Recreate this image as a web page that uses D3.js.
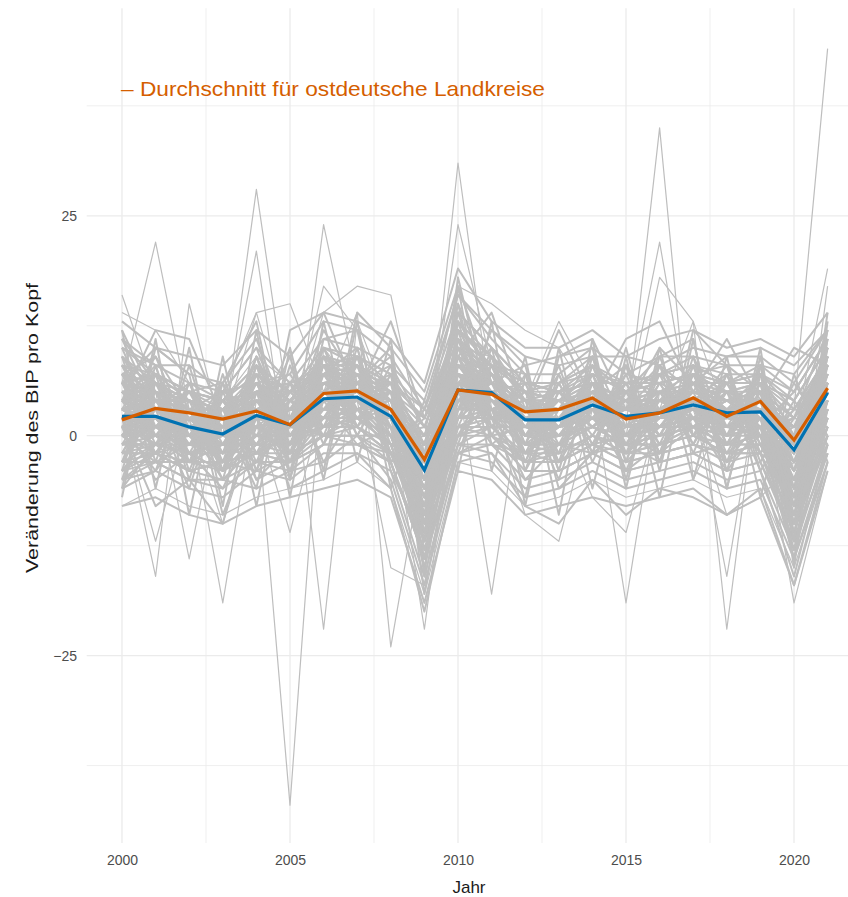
<!DOCTYPE html>
<html><head><meta charset="utf-8">
<script src="https://cdn.jsdelivr.net/npm/d3@7"></script>
<style>body{margin:0;background:#fff}svg{display:block;font-family:"Liberation Sans",Arial,sans-serif}</style>
</head><body><svg id="c" width="848" height="897"></svg>
<script>
const years = d3.range(2000, 2022);
const xTicks = [2000, 2005, 2010, 2015, 2020];
const yTicks = [-25, 0, 25];
const avgAll = [2.2, 2.2, 1.0, 0.2, 2.3, 1.25, 4.2, 4.4, 2.2, -3.9, 5.2, 4.9, 1.8, 1.8, 3.5, 2.2, 2.6, 3.5, 2.6, 2.7, -1.6, 4.9];
const avgEast = [1.8, 3.1, 2.6, 1.9, 2.8, 1.25, 4.8, 5.1, 3.0, -2.7, 5.2, 4.7, 2.7, 3.0, 4.3, 1.9, 2.6, 4.3, 2.2, 3.9, -0.5, 5.4];
const legendLabel = "– Durchschnitt für ostdeutsche Landkreise";
const xTitle = "Jahr";
const yTitle = "Veränderung des BIP pro Kopf";
const districtsCore = [
[8,6,4,3,7,4,9,8,5,2,12,9,5,6,7,6,7,8,6,6,4,10],
[-3,-2,-4,-5,-1,-2,0,1,-1,-12,0,1,-3,-2,0,-2,-1,0,-2,-1,-9,1],
[4,7,2,-2,5,0,6,3,4,-6,9,3,4,0,5,1,4,2,5,1,-3,7],
[0,3,-1,2,0,3,2,7,0,-9,3,7,0,4,1,4,0,6,0,5,-7,3],
[6,1,5,0,9,-1,8,5,7,-2,15,6,3,-2,8,0,6,4,7,0,2,12],
[-1,5,0,4,-2,5,1,9,-3,-14,2,9,-1,6,-1,5,-2,8,-1,6,-11,2],
[3,0,3,-3,4,-2,5,2,2,-8,7,2,2,-3,3,-1,3,1,3,0,-5,6],
[10,8,6,5,10,6,11,10,8,4,16,11,7,7,10,7,9,9,8,8,7,12],
[-5,-4,-6,-7,-4,-5,-2,-2,-4,-16,-1,-2,-6,-5,-3,-5,-4,-3,-5,-4,-13,-1],
[2,4,1,1,3,2,4,5,2,-4,5,5,2,2,4,2,3,4,2,3,-1,5],
[5,2,0,-1,6,3,7,6,1,-1,10,4,1,3,6,3,1,5,4,2,1,8],
[1,-1,3,2,0,-1,3,4,5,-10,4,6,4,1,2,3,4,3,0,4,-6,4],
[7,9,3,1,3,0,5,7,3,0,8,8,0,2,5,5,2,7,1,7,-2,9],
[-2,0,-3,-1,-3,1,0,3,-2,-7,1,3,-2,-1,-1,0,-2,1,-3,0,-8,0],
[4,3,6,4,2,6,3,4,6,-5,7,1,6,5,2,6,5,3,6,2,-4,6],
[9,5,-2,-4,8,2,10,3,-1,-11,11,0,-4,3,9,-3,8,2,-2,1,5,11],
[-4,1,5,6,-5,-3,-1,6,8,1,-2,8,7,-4,-2,8,-3,7,8,5,-12,-2],
[3,5,2,-1,1,4,6,6,3,-3,6,5,3,3,3,2,2,4,3,4,0,6],
[1,2,-2,0,4,1,2,3,1,-6,4,2,1,1,4,1,1,2,1,1,-3,3],
[6,7,4,2,5,-1,8,8,4,-1,13,7,4,4,5,4,5,5,5,5,0,8],
[0,-3,-1,-2,2,2,3,2,0,-8,2,2,-1,0,1,-1,0,1,0,1,-9,2],
[12,4,2,1,4,3,6,4,3,-4,6,4,3,2,4,3,3,4,3,3,-2,6],
[2,6,1,-3,3,-2,4,7,1,-9,7,5,0,1,3,0,2,3,1,2,-4,5],
[-6,-1,2,0,-2,0,2,2,3,-5,3,3,1,0,2,1,1,2,2,2,-2,4],
[5,0,-3,1,7,5,5,4,0,-12,8,6,3,4,6,4,4,6,3,3,-6,7],
[3,3,2,3,1,0,3,5,4,-3,3,4,2,3,3,1,2,3,2,3,1,4],
[8,4,3,5,3,5,7,2,2,-7,9,3,5,1,4,5,1,5,4,6,2,7],
[-1,0,0,-4,2,-4,4,5,1,-15,5,4,1,0,2,-2,1,2,1,0,-14,3],
[1,3,4,2,3,2,5,4,2,-4,7,6,2,2,4,2,3,4,3,3,-2,6],
[4,1,-1,0,2,1,4,6,2,-6,5,5,1,2,3,2,2,3,2,2,-1,4],
[2,1,0,1,3,2,5,5,3,-2,6,5,2,2,4,3,3,4,3,3,0,6],
[3,2,2,0,2,1,4,4,2,-5,5,4,2,1,3,2,2,3,2,2,-2,5],
[1,3,0,-1,3,1,3,5,3,-4,6,6,1,3,4,2,4,4,2,4,-3,5],
[4,2,1,1,1,2,5,3,1,-3,4,5,3,2,4,2,2,3,3,2,0,4],
[2,4,2,2,4,0,4,4,2,-7,8,5,2,1,3,3,3,4,1,3,-4,6],
[0,1,1,0,2,3,3,6,1,-6,4,4,0,2,3,1,2,3,2,3,-2,4],
[5,3,1,0,4,1,6,4,3,-2,7,4,3,1,5,3,3,4,4,2,0,7],
[1,0,-1,1,1,2,3,4,2,-5,4,5,1,2,3,1,2,4,2,3,-1,4],
[3,2,3,1,3,1,5,5,2,-4,6,4,2,3,4,2,3,3,3,3,-2,5],
[2,3,0,-1,2,2,4,4,3,-3,5,6,2,2,4,3,2,4,2,4,-1,6],
[7,5,4,2,6,4,8,7,5,1,10,8,5,4,7,5,6,7,5,6,3,9],
[-3,-3,-3,-3,-2,-3,1,1,-2,-10,1,1,-2,-2,0,-2,-1,0,-1,-1,-7,1],
[6,3,5,2,7,3,7,8,5,0,10,7,4,5,6,4,5,6,4,5,2,9],
[-2,-1,-2,-4,-1,-1,1,2,0,-9,1,2,-1,-1,1,-1,0,1,-1,0,-6,2],
[5,6,2,3,5,2,6,6,4,-1,9,7,4,3,5,4,4,6,4,4,1,8],
[-1,1,-2,-2,0,0,2,2,0,-8,2,3,0,0,2,0,1,2,0,1,-5,3],
[6,7,5,4,8,5,9,7,6,3,12,8,6,5,6,6,6,7,6,7,4,10],
[-4,-3,-5,-6,-3,-4,-1,-1,-3,-13,-2,0,-4,-4,-2,-4,-3,-2,-4,-3,-11,0],
[3,4,3,0,2,3,4,6,4,-3,6,5,3,4,4,3,3,5,3,4,-1,5],
[1,2,1,2,3,0,3,3,1,-6,4,4,1,1,3,2,2,3,1,2,-3,4],
[9,3,2,4,5,6,7,9,6,-1,14,10,6,6,8,5,7,8,6,8,5,11],
[-5,-2,-4,-3,-4,-2,0,-1,-2,-11,-1,-1,-3,-3,-1,-3,-2,-1,-2,-2,-10,-1],
[4,5,3,3,6,2,6,6,3,-2,8,6,3,3,5,3,4,5,4,5,0,7],
[0,0,-1,-2,1,-1,2,3,1,-7,3,3,0,1,2,0,1,2,1,1,-4,3],
[11,6,4,3,6,1,9,5,4,-3,11,6,5,4,6,4,8,5,4,5,1,10],
[2,-1,2,4,0,4,2,6,3,-9,6,7,3,3,2,2,1,3,3,2,-8,4],
[7,2,0,-2,9,1,6,4,0,-5,10,3,-1,2,7,0,4,2,0,4,-3,8],
[-3,4,4,1,-1,3,3,7,4,-10,3,6,3,5,1,4,3,6,4,1,-10,1],
[5,1,3,2,4,2,2,3,5,-4,7,5,1,3,5,2,4,2,5,3,1,7],
[0,2,1,-3,3,0,5,3,1,-7,5,3,3,0,4,1,2,3,0,3,-5,5],
[3,1,2,-1,5,3,2,6,5,-7,6,2,3,4,1,3,5,4,1,3,-4,8],
[-2,4,1,3,1,-2,6,4,0,-4,9,6,-2,1,5,0,3,5,3,0,-6,3],
[5,5,-1,2,3,1,7,3,3,-9,4,5,2,-1,3,4,0,2,4,5,-8,6],
[1,-2,2,-2,4,4,3,7,2,-5,8,3,4,3,4,-1,4,3,-1,2,-2,7],
[7,3,4,0,1,0,5,5,6,-3,11,7,1,2,6,3,2,6,5,4,-1,9],
[-1,2,-3,1,5,2,1,2,-1,-11,3,4,3,0,2,2,1,1,2,3,-7,2],
[4,6,3,-2,2,3,8,6,1,-1,7,3,0,3,3,1,4,4,2,1,2,8],
[2,0,0,3,6,-1,4,3,4,-8,6,6,2,2,5,4,2,2,4,4,-5,4],
[0,5,2,0,-1,2,5,8,2,-6,10,5,1,1,2,2,3,6,1,2,-3,6],
[6,2,-2,-1,4,0,3,4,3,-2,5,2,5,4,4,1,1,3,3,3,0,5],
[-4,-1,0,-3,0,1,2,1,-2,-9,0,2,-1,-2,0,-1,-1,0,-2,-1,-8,0],
[8,7,5,3,5,5,10,8,6,2,13,9,4,5,7,5,7,6,6,6,4,10],
[3,4,-1,1,3,0,4,5,1,-5,7,4,1,2,3,2,2,3,2,2,-3,5],
[1,1,1,-1,2,1,3,4,2,-6,4,4,2,1,3,1,2,3,1,2,-2,4],
[2,3,2,1,3,2,4,4,3,-4,6,5,2,2,4,2,3,4,3,3,-1,5],
[4,2,1,0,2,1,5,5,2,-3,5,5,2,2,4,3,3,4,2,3,-2,6],
[0,1,-1,0,2,1,4,4,2,-5,5,4,1,1,3,2,2,3,2,2,-3,4],
[2,2,1,1,3,1,4,5,3,-4,6,5,2,2,3,2,3,4,3,3,-1,5],
[3,3,1,0,2,2,5,4,2,-5,5,4,2,2,4,2,3,3,2,3,-2,5],
[1,2,0,0,3,1,4,4,2,-3,6,5,2,1,3,2,2,4,2,3,-1,5],
[5,4,3,2,5,3,7,6,4,-1,9,7,4,3,6,4,5,6,4,5,2,8],
[-1,0,-1,-2,0,-1,2,3,0,-8,3,3,0,0,1,0,1,1,0,1,-5,2],
[6,5,3,3,4,2,7,7,5,0,8,7,4,4,5,4,4,5,5,4,1,7],
[-3,-1,-2,-1,-1,0,1,2,-1,-11,1,2,-1,-1,1,-1,-1,1,-1,0,-9,1],
[9,6,5,4,7,4,8,9,7,1,12,9,5,5,8,5,6,7,6,7,3,9],
[-2,-2,-4,-3,-2,-2,0,0,-2,-12,0,0,-2,-3,-1,-2,-2,-1,-2,-2,-10,0],
[4,4,4,2,4,3,6,5,4,-2,7,6,3,3,5,3,4,5,3,4,0,7],
[0,0,-2,-1,1,0,3,3,1,-7,2,3,1,0,2,1,1,2,1,1,-6,3],
[7,6,4,3,6,3,9,8,6,2,11,8,5,4,7,5,5,7,5,6,2,9],
[-4,-2,-3,-4,-2,-3,0,0,-3,-14,-1,1,-3,-3,-1,-3,-2,-1,-3,-2,-12,0],
[3,1,2,2,1,2,6,6,3,-4,7,6,3,3,4,3,3,4,3,3,-1,6],
[1,3,0,-2,3,0,3,3,1,-6,4,3,0,1,3,1,2,2,1,2,-4,4],
[5,2,2,1,3,2,5,5,3,-2,6,5,2,2,4,2,3,4,3,3,0,6],
[2,0,1,-1,2,1,3,4,2,-5,5,4,1,2,3,1,2,3,2,2,-3,4],
[-5,-3,-5,-5,-3,-3,-1,-1,-3,-14,-2,-1,-5,-4,-2,-4,-3,-2,-4,-3,-12,-2],
[10,7,5,4,8,5,10,9,7,3,14,10,6,6,8,6,7,8,7,7,5,11],
[6,4,2,1,5,1,6,7,4,-3,9,6,3,3,5,3,4,5,4,4,-1,8],
[-1,-1,-1,-1,1,0,2,2,0,-9,2,2,-1,0,1,0,0,1,0,0,-7,2],
[3,5,4,3,4,4,6,6,5,-1,8,6,4,4,5,4,4,5,4,4,1,7],
[2,2,0,-1,1,-1,3,3,1,-7,3,3,1,1,2,1,1,2,1,1,-4,3],
[9,-3,8,-4,9,-2,10,1,8,-10,12,0,7,-4,9,-3,8,-2,7,-3,4,-1],
[-4,8,-5,7,-4,8,-1,10,-3,3,-1,10,-4,7,-2,8,-3,9,-4,8,-12,11],
[7,-1,6,-3,8,-3,9,0,7,-12,13,1,6,-3,8,-2,7,-1,7,-2,6,0],
[-3,7,-4,5,-3,6,0,9,-2,2,1,9,-3,6,-1,7,-2,8,-3,7,-10,10],
[5,0,5,-2,6,-1,8,2,6,-9,10,2,5,-2,7,-1,6,0,6,-1,3,2],
[0,6,-2,4,-1,5,2,8,-1,0,2,8,-2,5,0,6,-1,7,-1,6,-8,9],
[6,-2,3,-4,7,-4,7,1,5,-14,11,3,4,-5,6,-4,5,1,5,-4,2,1],
[-2,5,-3,6,-4,4,1,7,0,1,0,7,-1,8,-3,5,0,6,-2,5,-9,8],
[4,8,-3,3,6,-2,3,8,-2,-5,14,2,-3,5,6,-2,2,7,-1,6,-4,10],
[1,-4,6,-1,3,5,8,0,7,-11,4,8,6,-1,2,7,6,0,7,-1,1,3],
[8,2,-1,5,10,0,5,9,1,-7,8,4,0,6,9,1,4,8,0,8,-6,12],
[-3,3,4,-4,0,6,-3,3,5,-2,7,6,5,-3,0,6,-2,4,6,0,-11,4],
[3,9,0,6,-2,2,9,1,-2,-4,15,-1,2,4,1,5,9,0,3,7,0,9],
[0,-2,4,0,7,-3,2,6,9,-13,2,5,-2,1,7,-3,1,5,-3,2,-13,6],
[10,1,3,-2,5,7,1,4,3,-6,6,10,4,0,5,8,3,3,8,-2,-5,5],
[-5,6,0,3,-5,-1,7,10,-3,-1,9,0,1,7,-2,1,7,9,1,4,-7,11],
[2,-5,-2,-6,2,3,4,-1,1,-15,1,3,-5,-1,3,-4,-1,2,-4,1,-14,-2],
[6,10,7,6,11,1,12,6,10,5,17,6,8,9,11,3,10,6,9,10,8,12],
[-6,-4,1,-5,-6,-4,-3,0,-5,-17,-2,-3,-7,-6,-4,-6,-5,-4,-6,-5,-14,-3],
[11,8,8,5,6,7,13,12,9,3,16,12,9,8,9,9,8,10,9,9,6,12],
[4,-2,-1,3,-1,4,0,2,2,-8,0,4,-1,0,1,4,-1,1,1,4,-10,1],
[1,6,3,-5,8,-2,6,3,-1,-3,10,5,2,-2,6,-1,5,4,3,-2,3,8],
[3,1,5,1,-1,2,6,7,2,-12,5,-1,-2,2,4,-2,3,1,-1,2,-9,3],
[7,4,-1,-1,4,3,2,6,6,-1,8,5,6,5,3,5,1,6,3,5,-3,5],
[-2,-2,3,2,6,0,5,1,-2,-8,11,7,0,-1,6,2,5,-1,5,0,0,10],
[5,3,0,-3,1,-1,7,5,4,-6,4,3,3,4,1,4,3,4,0,5,-6,2],
[0,4,4,3,5,6,1,3,5,-4,6,1,1,2,5,0,4,2,4,3,-1,6],
[8,0,1,1,2,-3,4,7,3,-9,12,6,4,3,3,6,0,7,2,1,-7,9],
[2,7,5,4,-2,1,8,4,-1,-2,3,8,2,0,2,3,7,3,6,6,-2,3],
[-1,-1,-4,-3,1,2,0,0,0,-10,1,0,-3,-1,-2,-1,-3,-2,-1,-1,-8,-1],
[12,-6,10,-8,12,-7,13,-3,11,-16,17,-4,9,-9,11,-6,10,-5,9,-7,7,-3],
[-7,11,-9,9,-8,10,-5,13,-6,4,-4,13,-8,10,-6,9,-7,11,-6,10,-15,13],
[11,3,-6,6,13,-5,11,12,-4,-12,18,2,-7,9,10,-5,9,11,-6,9,-12,14],
[-6,10,7,-9,1,9,-4,14,10,-18,3,12,8,-6,-2,10,-4,12,8,-4,-16,-1],
[13,10,9,8,12,9,14,13,11,6,19,13,10,10,12,9,11,12,10,11,9,14],
[-8,-7,-9,-10,-8,-7,-6,-5,-7,-19,-4,-5,-9,-8,-7,-8,-7,-6,-9,-7,-17,-4],
[1,-8,-5,-10,5,-6,-4,-2,-6,-20,-3,-2,-8,-10,-5,-9,-6,-7,-9,-6,-17,-3],
[4,12,11,2,-6,12,14,5,13,2,9,14,3,12,4,11,13,5,11,4,10,8]
];
const districtsSpikes = [
[6,22,3,1,3,2,5,5,3,-3,6,5,3,2,4,3,3,4,3,3,0,6],
[3,2,1,0,28,2,4,5,2,-4,6,4,2,2,3,2,3,3,2,3,-1,5],
[4,3,2,1,21,-5,6,4,2,-5,7,5,2,2,4,2,2,4,2,3,-2,5],
[2,1,0,0,3,-42,10,5,3,-4,5,4,2,2,3,2,3,3,2,3,-2,4],
[3,2,1,0,2,-5,24,6,3,-3,6,5,2,2,4,3,2,4,3,3,-1,5],
[2,1,0,1,2,10,-22,13,3,-5,5,4,1,2,3,2,3,3,2,2,-2,4],
[4,3,2,1,3,2,5,14,-24,-2,8,5,2,2,4,3,3,4,3,3,-1,6],
[2,1,0,0,2,1,4,4,3,-22,7,4,2,2,3,2,2,3,2,2,-3,5],
[3,2,1,1,3,2,5,5,3,-5,31,3,2,2,4,3,3,4,3,3,-1,6],
[2,1,0,0,2,1,4,4,2,-3,24,8,3,2,3,2,3,3,2,3,-2,5],
[3,2,1,0,3,2,5,5,3,-4,6,-18,7,2,4,2,3,4,3,3,-1,5],
[2,2,1,0,2,1,4,4,2,-5,5,3,-9,-12,3,2,2,3,2,3,-2,5],
[3,2,1,0,3,1,5,5,3,-4,6,4,2,3,5,-19,5,4,3,3,-2,6],
[2,2,1,0,2,1,4,5,2,-4,5,4,2,2,3,1,35,-5,3,3,-2,5],
[3,2,1,1,3,2,5,4,3,-3,6,5,2,2,3,3,22,0,2,3,-1,5],
[2,1,0,0,2,1,4,4,2,-4,5,4,2,2,3,2,3,13,-22,8,-3,5],
[3,2,1,0,3,1,5,5,3,-4,6,4,2,2,4,2,3,4,-16,7,-2,6],
[2,1,0,0,2,1,4,4,2,-5,5,4,2,2,3,2,3,3,2,3,-19,-4],
[3,2,1,0,3,2,5,5,3,-4,6,4,2,2,4,2,3,4,3,3,3,44],
[2,2,1,1,2,1,4,4,2,-3,5,4,2,2,3,2,2,3,2,3,0,19],
[16,5,2,-19,4,1,5,4,2,-4,6,4,2,2,3,2,3,3,2,3,-1,5],
[2,-16,15,0,2,1,4,4,2,-4,5,4,2,2,3,2,3,3,2,3,-2,5],
[3,5,-14,5,14,1,4,4,2,-4,5,4,2,2,3,2,3,3,2,3,-2,5],
[3,2,1,0,3,1,14,17,16,-2,6,4,2,2,3,2,3,3,2,3,-1,5],
[2,1,0,0,2,1,4,4,2,0,17,15,12,10,4,2,3,3,2,3,-1,5],
[2,1,0,0,2,1,4,4,2,-4,5,3,4,13,6,2,3,3,2,3,-1,5],
[2,1,0,0,2,1,4,4,2,-8,5,4,2,2,3,2,3,3,2,3,-14,12],
[2,1,0,0,2,1,4,4,-15,-17,8,4,2,2,3,2,3,3,2,3,-2,5],
[2,1,0,0,2,1,4,4,2,-4,5,4,2,2,3,0,18,13,2,3,-1,5],
[2,1,0,0,2,1,4,4,2,-4,5,4,2,2,3,2,3,3,2,3,-12,17],
[4,3,2,1,14,15,5,4,2,-4,5,4,2,2,3,2,3,3,2,3,-1,5],
[3,2,1,0,3,1,17,12,2,-4,5,4,2,2,3,2,3,3,2,3,-1,5],
[2,1,0,0,2,1,4,4,2,-4,5,4,2,2,-7,-11,3,3,2,3,-1,5],
[2,1,0,0,2,1,4,4,2,-4,5,4,2,2,3,2,3,3,-9,-7,-3,5],
[2,-12,2,-10,2,-11,4,4,2,-4,5,4,2,2,3,2,3,3,2,3,-1,5],
[14,12,6,4,9,6,8,7,5,1,10,9,6,5,8,6,6,7,6,6,3,9],
[-8,-6,-8,-9,-7,-6,-5,-3,-6,-18,-3,-4,-8,-7,-5,-7,-6,-5,-7,-6,-15,-3]
];

const svg = d3.select("#c");
const x = d3.scaleLinear().domain([1998.95, 2022.05]).range([86.7, 862.9]);
const y = d3.scaleLinear().domain([-46.3, 48.6]).range([843, 8.2]);
const grid = svg.append("g");
const minorX = d3.range(2002.5, 2022, 5);
const minorY = [-37.5, -12.5, 12.5, 37.5];
grid.selectAll(".mx").data(minorX).join("line")
  .attr("x1", d => x(d)).attr("x2", d => x(d)).attr("y1", 8.2).attr("y2", 843)
  .attr("stroke", "#ebebeb").attr("stroke-width", 0.8);
grid.selectAll(".my").data(minorY).join("line")
  .attr("x1", 86.7).attr("x2", 862.9).attr("y1", d => y(d)).attr("y2", d => y(d))
  .attr("stroke", "#ebebeb").attr("stroke-width", 0.8);
grid.selectAll(".Mx").data(xTicks).join("line")
  .attr("x1", d => x(d)).attr("x2", d => x(d)).attr("y1", 8.2).attr("y2", 843)
  .attr("stroke", "#ebebeb").attr("stroke-width", 1.3);
grid.selectAll(".My").data(yTicks).join("line")
  .attr("x1", 86.7).attr("x2", 862.9).attr("y1", d => y(d)).attr("y2", d => y(d))
  .attr("stroke", "#ebebeb").attr("stroke-width", 1.3);

const line = d3.line().x((d, i) => x(years[i])).y(d => y(d));
svg.append("g").selectAll("path").data(districtsSpikes).join("path")
  .attr("d", line).attr("fill", "none").attr("stroke", "#bebebe").attr("stroke-width", 1.2)
  .attr("stroke-linejoin", "round");
svg.append("g").selectAll("path").data(districtsCore).join("path")
  .attr("d", line).attr("fill", "none").attr("stroke", "#bebebe").attr("stroke-width", 2)
  .attr("stroke-linejoin", "round");
svg.append("path").datum(avgAll).attr("d", line).attr("fill", "none")
  .attr("stroke", "#0072B2").attr("stroke-width", 3.2);
svg.append("path").datum(avgEast).attr("d", line).attr("fill", "none")
  .attr("stroke", "#D55E00").attr("stroke-width", 3.2);

const xAxis = svg.append("g").attr("transform", "translate(0,850)")
  .call(d3.axisBottom(x).tickValues(xTicks).tickFormat(d3.format("d")).tickSize(0).tickPadding(5));
xAxis.select(".domain").remove();
xAxis.selectAll("text").attr("fill", "#4d4d4d").attr("font-size", 14).attr("font-family", "Liberation Sans, Arial, sans-serif");
const yAxis = svg.append("g").attr("transform", "translate(80,0)")
  .call(d3.axisLeft(y).tickValues(yTicks).tickFormat(d3.format("d")).tickSize(0).tickPadding(3));
yAxis.select(".domain").remove();
yAxis.selectAll("text").attr("fill", "#4d4d4d").attr("font-size", 14).attr("font-family", "Liberation Sans, Arial, sans-serif");

svg.append("text").attr("x", 469).attr("y", 893).attr("text-anchor", "middle")
  .attr("font-size", 17).attr("fill", "#1a1a1a").text(xTitle);
svg.append("text").attr("transform", "translate(38,428) rotate(-90)").attr("text-anchor", "middle")
  .attr("font-size", 17).attr("fill", "#1a1a1a")
  .attr("textLength", 290).attr("lengthAdjust", "spacingAndGlyphs").text(yTitle);
svg.append("text").attr("x", x(2000) - 1).attr("y", 96).attr("font-size", 21)
  .attr("fill", "#D55E00").attr("textLength", 424).attr("lengthAdjust", "spacingAndGlyphs").text(legendLabel);
</script></body></html>
